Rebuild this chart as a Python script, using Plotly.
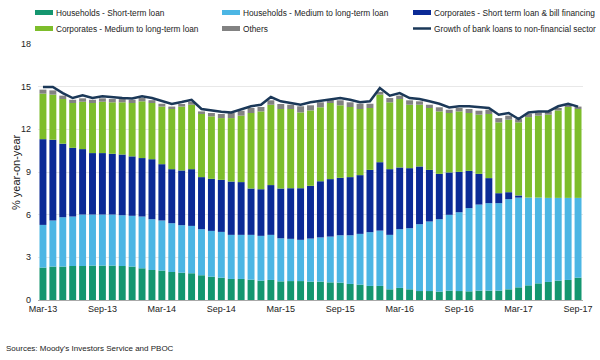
import plotly.graph_objects as go

months = ["Mar-13","Apr-13","May-13","Jun-13","Jul-13","Aug-13","Sep-13","Oct-13","Nov-13","Dec-13",
          "Jan-14","Feb-14","Mar-14","Apr-14","May-14","Jun-14","Jul-14","Aug-14","Sep-14","Oct-14",
          "Nov-14","Dec-14","Jan-15","Feb-15","Mar-15","Apr-15","May-15","Jun-15","Jul-15","Aug-15",
          "Sep-15","Oct-15","Nov-15","Dec-15","Jan-16","Feb-16","Mar-16","Apr-16","May-16","Jun-16",
          "Jul-16","Aug-16","Sep-16","Oct-16","Nov-16","Dec-16","Jan-17","Feb-17","Mar-17","Apr-17",
          "May-17","Jun-17","Jul-17","Aug-17","Sep-17"]

hh_short = [2.28,2.35,2.35,2.39,2.39,2.42,2.42,2.42,2.39,2.35,
            2.23,2.11,2.07,1.97,1.92,1.88,1.74,1.64,1.57,1.48,
            1.48,1.43,1.36,1.41,1.31,1.33,1.33,1.29,1.29,1.24,
            1.22,1.13,1.08,0.99,0.99,0.75,0.85,0.75,0.63,0.63,
            0.59,0.66,0.63,0.61,0.66,0.66,0.66,0.75,0.89,1.03,
            1.17,1.27,1.36,1.41,1.57]
hh_medium = [3.00,3.24,3.47,3.48,3.62,3.59,3.59,3.59,3.57,3.57,
             3.64,3.57,3.52,3.43,3.34,3.33,3.24,3.22,3.22,3.10,
             3.10,3.15,3.15,3.17,3.03,2.97,2.90,3.03,3.11,3.22,
             3.33,3.42,3.57,3.78,3.89,3.83,4.13,4.30,4.70,4.89,
             5.09,5.33,5.54,5.85,6.05,6.15,6.15,6.34,6.31,6.17,
             6.03,5.91,5.82,5.77,5.61]
corp_short = [6.03,5.68,5.17,4.83,4.60,4.32,4.32,4.27,4.27,4.18,
              4.11,4.22,3.96,3.80,3.85,3.99,3.66,3.66,3.66,3.75,
              3.71,3.26,3.28,3.50,3.50,3.56,3.63,3.71,3.95,4.04,
              4.04,4.09,4.13,4.38,4.81,4.62,4.34,4.22,4.06,3.63,
              3.19,2.98,2.84,2.62,2.16,1.76,0.70,0.49,0.15,0.00,
              -0.05,-0.08,-0.05,-0.05,-0.08]
corp_medium = [3.20,3.17,3.14,3.15,3.33,3.52,3.61,3.62,3.67,3.75,
               3.99,3.95,4.05,4.23,4.49,4.53,4.44,4.39,4.34,4.46,
               4.67,5.31,5.47,5.65,5.59,5.57,5.33,5.30,5.20,5.35,
               5.10,4.93,4.65,4.35,4.75,4.70,4.81,4.46,4.34,4.35,
               4.39,4.18,4.25,4.07,4.16,4.51,4.98,5.10,5.14,5.66,
               5.76,5.85,6.15,6.39,6.25]
others = [0.28,0.30,0.24,0.23,0.24,0.23,0.24,0.23,0.23,0.23,
          0.23,0.20,0.20,0.17,0.18,0.22,0.18,0.24,0.29,0.36,
          0.35,0.35,0.31,0.31,0.35,0.30,0.43,0.36,0.35,0.25,
          0.35,0.33,0.37,0.30,0.20,0.30,0.24,0.31,0.24,0.23,
          0.29,0.23,0.24,0.28,0.28,0.30,0.30,0.28,0.23,0.24,
          0.23,0.23,0.17,0.18,0.17]
growth = [14.98,14.98,14.55,14.20,14.39,14.20,14.32,14.25,14.20,14.17,
          14.32,14.20,13.97,13.78,13.92,14.08,13.43,13.31,13.24,13.19,
          13.43,13.62,13.73,14.27,13.97,13.85,13.73,13.90,14.00,14.08,
          14.20,14.08,13.90,13.97,14.91,14.37,14.55,14.20,14.13,13.97,
          13.80,13.54,13.62,13.62,13.54,13.50,13.03,13.15,12.72,13.19,
          13.26,13.26,13.62,13.80,13.60]

tick_idx = [0, 6, 12, 18, 24, 30, 36, 42, 48, 54]
tick_labels = [months[i] for i in tick_idx]
y_ticks = [0, 3, 6, 9, 12, 15, 18]

series_names = ["Households - Short-term loan",
                "Households - Medium to long-term loan",
                "Corporates - Short term loan & bill financing",
                "Corporates - Medium to long-term loan",
                "Others"]
series_values = [hh_short, hh_medium, corp_short, corp_medium, others]
series_colors = ["#14966f", "#4cb6e4", "#0b2a96", "#7dbd2b", "#828282"]
line_name = "Growth of bank loans to non-financial sector"
line_color = "#1b3858"
FONT = "Liberation Sans, Arial, sans-serif"

W, H = 600, 360
ML, MR, MT, MB = 38, 17, 44, 60
PW, PH = W - ML - MR, H - MT - MB


def px2x(px):
    return (px - ML) / PW


def py2y(py):
    return (H - MB - py) / PH


fig = go.Figure()
x = list(range(len(months)))
for name, vals, col in zip(series_names, series_values, series_colors):
    fig.add_trace(go.Bar(x=x, y=vals, name=name, marker=dict(color=col, line=dict(width=0)),
                         showlegend=False))
fig.add_trace(go.Scatter(x=x, y=growth, mode="lines", name=line_name,
                         line=dict(color=line_color, width=2.5), showlegend=False))

# custom legend (3 columns x 2 rows)
col_px = [35, 222, 413]
row_py = [12.5, 28.5]
entries = [(n, c, "bar") for n, c in zip(series_names, series_colors)] + [(line_name, line_color, "line")]
shapes = []
annotations = []
for i, (name, col, kind) in enumerate(entries):
    cx = col_px[i % 3]
    cy = row_py[i // 3]
    if kind == "bar":
        shapes.append(dict(type="rect", xref="paper", yref="paper",
                           x0=px2x(cx), x1=px2x(cx + 18), y0=py2y(cy + 2.5), y1=py2y(cy - 2.5),
                           fillcolor=col, line=dict(width=0)))
    else:
        shapes.append(dict(type="line", xref="paper", yref="paper",
                           x0=px2x(cx), x1=px2x(cx + 18), y0=py2y(cy), y1=py2y(cy),
                           line=dict(color=col, width=2.5)))
    annotations.append(dict(text=name, xref="paper", yref="paper", x=px2x(cx + 18.5), y=py2y(cy),
                            xanchor="left", yanchor="middle", showarrow=False,
                            font=dict(size=8.3, color="#222")))

annotations.append(dict(text="% year-on-year", textangle=-90, xref="paper", yref="paper",
                        x=px2x(16), y=0.5, xanchor="center", yanchor="middle", showarrow=False,
                        font=dict(size=11, color="#222")))
annotations.append(dict(text="Sources: Moody's Investors Service and PBOC", xref="paper", yref="paper",
                        x=px2x(4), y=py2y(348), xanchor="left", yanchor="middle", showarrow=False,
                        font=dict(size=8, color="#222")))

fig.update_layout(
    width=W, height=H,
    margin=dict(l=ML, r=MR, t=MT, b=MB, autoexpand=False),
    barmode="relative", bargap=0.3,
    plot_bgcolor="white", paper_bgcolor="white",
    font=dict(family=FONT, size=9, color="#222"),
    showlegend=False,
    xaxis=dict(range=[-0.5, 54.5], tickmode="array", tickvals=tick_idx, ticktext=tick_labels,
               showgrid=False, showline=True, linecolor="#aaaaaa", linewidth=1, ticks="",
               tickfont=dict(size=9, color="#222")),
    yaxis=dict(range=[0, 18], tickvals=y_ticks, showgrid=True,
               gridcolor="#e8e8e8", gridwidth=1, zeroline=False, showline=False, ticks="",
               tickfont=dict(size=9, color="#222"), ticklabelstandoff=6),
    shapes=shapes,
    annotations=annotations,
)

fig.write_html("out.html", config={"displayModeBar": False},
               post_script="document.body.style.margin='0';")
